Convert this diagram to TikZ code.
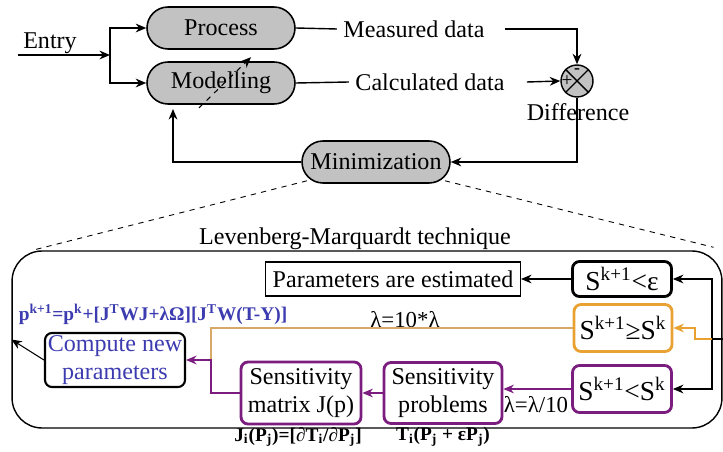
\documentclass[tikz,border=0pt]{standalone}
\usepackage{fontspec}
\setmainfont{Liberation Serif}
\usepackage{tikz}
\usetikzlibrary{arrows.meta,calc,shapes.misc}
\definecolor{BlockGray}{HTML}{C2C2C2}
\definecolor{LMPurple}{HTML}{7B1D7E}
\definecolor{LMOrange}{HTML}{E9A232}
\definecolor{LMTan}{HTML}{D8A866}
\definecolor{TextBlue}{HTML}{3C3CB0}
\newcommand{\mainsize}{\fontsize{13.7}{16}\selectfont}
\newcommand{\boxsize}{\fontsize{15.6}{17}\selectfont}
\newcommand{\eqsize}{\fontsize{11}{12}\selectfont\bfseries}
\newcommand{\lamsize}{\fontsize{13}{14}\selectfont}

\tikzset{
    flowblock/.style={rounded rectangle, draw, line width=0.9pt, fill=BlockGray,
        minimum width=2.96cm, minimum height=0.84cm, inner sep=0pt, font=\mainsize},
    lmblock/.style={draw, rounded corners=4pt, line width=1.6pt, inner sep=0pt, align=center},
    arr/.style={-{Stealth[length=6pt,width=5pt]}},
}

\begin{document}
\begin{tikzpicture}[x=0.02cm,y=-0.02cm,line width=0.8pt]
    \useasboundingbox (0,0) rectangle (723,452);
    \node[font=\mainsize] (entry) at (50,43) {Entry};
    \coordinate (ein) at (18,55);
    \coordinate (split) at (110,55);
    \node[flowblock] (proc) at (221,28) {Process};
    \node[flowblock] (model) at (221,83) {Modelling};
    \node[font=\mainsize] (meas) at (414,29) {Measured data};
    \node[font=\mainsize] (calc) at (430,82) {Calculated data};
    \node[circle, draw, fill=BlockGray, minimum size=0.64cm, inner sep=0pt] (diff) at (577,81) {};
    \draw (diff.north west) -- (diff.south east) (diff.north east) -- (diff.south west);
    \node[font=\fontsize{10}{10}\selectfont\bfseries, inner sep=0pt] (dminus) at ($(diff)+(0,-10)$) {-};
    \node[font=\fontsize{11}{11}\selectfont, inner sep=0pt] (dplus) at ($(diff)+(-10,0)$) {+};
    \node[font=\mainsize] (difflbl) at (578,112) {Difference};
    \node[flowblock] (mini) at (376,162) {Minimization};

    \draw[arr] (ein) -- (split);
    \draw[arr] (split) |- (proc.west);
    \draw[arr] (split) |- (model.west);
    \draw (proc.east) -- (meas.west);
    \draw (model.east) -- (calc.west);
    \draw[arr] ([xshift=8pt]meas.east) -| (diff.north);
    \draw[arr] ([xshift=9pt]calc.east) -- (diff.west);
    \draw[arr] (diff.south) |- (mini.east);
    \coordinate (mfb) at (173,109);
    \draw[arr] (mini.west) -| (mfb);
    \draw[arr, dashed, line width=0.6pt] ($(model.south west)+(31,3)$) -- ($(model.north east)+(-23,-4)$);

    \node[draw, rounded corners=0.6cm, line width=0.8pt, minimum width=14.2cm, minimum height=3.54cm, inner sep=0pt] (lmbox) at (367,339.5) {};
    \node[font=\mainsize] (lmlbl) at (355,239) {Levenberg-Marquardt technique};
    \draw[dashed, line width=0.5pt] ($(mini.south)+(-69,-3)$) -- ($(lmbox.north west)+(21,0)$);
    \draw[dashed, line width=0.5pt] ($(mini.south)+(69,-3)$) -- ($(lmbox.north east)+(-9,-3)$);

    \node[draw, line width=0.6pt, minimum width=5.1cm, minimum height=0.68cm, inner sep=0pt, font=\mainsize] (est) at (393,279) {Parameters are estimated};
    \node[lmblock, minimum width=1.98cm, minimum height=0.7cm, font=\boxsize] (seps) at (622,279) {S\textsuperscript{k+1}<ε};
    \node[lmblock, draw=LMOrange, minimum width=1.96cm, minimum height=0.94cm, font=\boxsize] (sgeq) at (623,328) {S\textsuperscript{k+1}≥S\textsuperscript{k}};
    \node[lmblock, draw=LMPurple, minimum width=1.98cm, minimum height=0.94cm, font=\boxsize] (sless) at (622,389) {S\textsuperscript{k+1}<S\textsuperscript{k}};
    \node[lmblock, draw=LMPurple, minimum width=2.36cm, minimum height=1.22cm, font=\mainsize] (sprob) at (443,393) {Sensitivity\\problems};
    \node[lmblock, draw=LMPurple, minimum width=2.4cm, minimum height=1.24cm, font=\mainsize] (smat) at (301,393) {Sensitivity\\matrix J(p)};
    \node[lmblock, line width=1.2pt, minimum width=2.8cm, minimum height=1.08cm, font=\mainsize, text=TextBlue] (comp) at (115,360) {Compute new\\parameters};
    \node[font=\eqsize, text=TextBlue] (pupd) at (153,314) {p\textsuperscript{k+1}=p\textsuperscript{k}+[J\textsuperscript{T}WJ+λΩ][J\textsuperscript{T}W(T-Y)]};
    \node[font=\lamsize] (lamup) at (405,320) {λ=10*λ};
    \node[font=\lamsize] (lamdn) at (536,405) {λ=λ/10};
    \node[font=\eqsize] (jlbl) at (298,437) {J\textsubscript{i}(P\textsubscript{j})=[∂T\textsubscript{i}/∂P\textsubscript{j}]};
    \node[font=\eqsize] (tlbl) at (443,437) {T\textsubscript{i}(P\textsubscript{j} + εP\textsubscript{j})};

    \coordinate (fb) at (725,339);
    \coordinate (jct) at (712,339);
    \coordinate (mrg) at (211,360);
    \draw[line width=0.6pt] (fb) -- (jct);
    \draw[arr, line width=0.6pt] (jct) |- (seps.east);
    \draw[arr, line width=0.6pt] (jct) |- (sless.east);
    \draw[arr, line width=0.6pt, LMOrange] (jct) -- ++(-17,0) |- (sgeq.east);
    \draw[arr, line width=0.6pt] (seps.west) -- (est.east);
    \draw[line width=0.6pt, LMTan] (sgeq.west) -| (mrg);
    \draw[arr, line width=0.6pt, LMPurple] (sless.west) -- (sless.west -| sprob.east);
    \draw[arr, line width=0.6pt, LMPurple] (sprob.west) -- (smat.east);
    \draw[arr, line width=0.6pt, LMPurple] (smat.west) -| (mrg) -- (comp.east);
    \draw[arr, line width=0.6pt] (comp.west) -- (lmbox.west);
\end{tikzpicture}
\end{document}
